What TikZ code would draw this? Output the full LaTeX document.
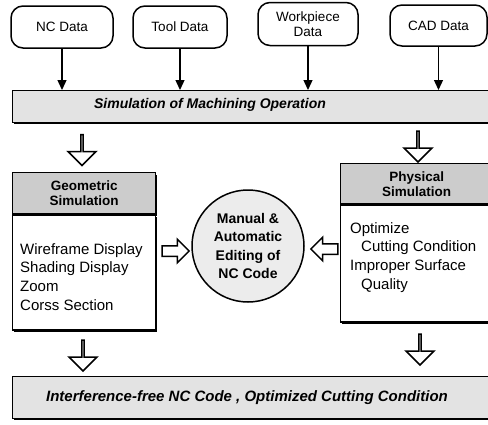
\documentclass[tikz,border=0pt]{standalone}
\usepackage{fontspec}
\setmainfont{Liberation Sans}
\usetikzlibrary{shapes.arrows,shadows,arrows.meta,calc}
\tikzset{
  databox/.style={draw,line width=1.5pt,rounded corners=12pt,fill=white,
    align=center,font=\fontsize{13.5}{15}\selectfont,inner sep=2pt},
  bar/.style={draw,line width=1.4pt,fill=gray!22,
    drop shadow={shadow xshift=0.8pt,shadow yshift=-1.4pt,fill=black,opacity=1}},
  headbox/.style={draw,line width=1.4pt,fill=gray!40,align=center,
    font=\bfseries\fontsize{13.5}{17}\selectfont,inner sep=0pt},
  bodybox/.style={draw,line width=1.4pt,fill=white,inner sep=0pt},
  boxshadow/.style={drop shadow={shadow xshift=1.6pt,shadow yshift=-1.8pt,fill=black,opacity=1}},
  bodytext/.style={align=left,anchor=north west,inner sep=0pt,
    font=\fontsize{15}{18.8}\selectfont},
  bartext/.style={font=\bfseries\itshape\fontsize{14}{16}\selectfont,inner sep=0pt},
  feed/.style={line width=1.3pt,-{Triangle[length=10pt,width=9pt]}},
  hollow/.style={single arrow,draw,line width=1.6pt,fill=white,inner xsep=0pt,
    inner ysep=5pt,minimum width=28pt,single arrow head extend=9pt,minimum height=31pt,
    single arrow tip angle=90},
  hollowh/.style={single arrow,draw,line width=1.5pt,fill=white,inner xsep=0pt,
    inner ysep=4.5pt,minimum width=22pt,single arrow head extend=6.5pt,minimum height=27pt,
    single arrow tip angle=90},
}
\begin{document}
\begin{tikzpicture}[x=1pt,y=-1pt]
\useasboundingbox (0,0) rectangle (488,424);
\clip (0,0) rectangle (488,424);

% input data boxes
\node[databox,minimum width=102pt,minimum height=42pt] (nc) at (62,27) {NC Data};
\node[databox,minimum width=94pt,minimum height=42pt] (tool) at (180,27) {Tool Data};
\node[databox,minimum width=100pt,minimum height=43pt] (work) at (308,24) {Workpiece\\Data};
\node[databox,minimum width=97pt,minimum height=41pt] (cad) at (438.5,25.5) {CAD Data};

% top bar
\node[bar,minimum width=482pt,minimum height=32pt,anchor=north west] (sim) at (12,90) {};
\node[bartext] (simtext) at (210,105) {Simulation of Machining Operation};

\foreach \n in {nc,tool,work,cad}
  \draw[feed] (\n.south) -- (\n.south |- sim.north);

% geometric simulation
\node[headbox,boxshadow,minimum width=143pt,minimum height=41pt,anchor=north west] (geohead) at (12,172) {Geometric\\[-2pt]Simulation};
\node[bodybox,boxshadow,minimum width=143pt,minimum height=115pt,anchor=north] (geobody) at (geohead.south) {};
\node[bodytext] (geotext) at (20,243) {Wireframe Display\\Shading Display\\Zoom\\Corss Section};

% physical simulation
\node[headbox,boxshadow,minimum width=152pt,minimum height=40pt,anchor=north west] (phyhead) at (340,163) {Physical\\[-2pt]Simulation};
\node[bodybox,boxshadow,minimum width=152pt,minimum height=117pt,anchor=north] (phybody) at (phyhead.south) {};
\node[bodytext] (phytext) at (350,222) {Optimize\\\hspace*{11pt}Cutting Condition\\Improper Surface\\\hspace*{11pt}Quality};

% circle
\node[circle,draw,line width=1.5pt,fill=gray!15,minimum size=112pt,inner sep=0pt,
  align=center,font=\bfseries\fontsize{14}{18.6}\selectfont] (edit) at (248,246)
  {Manual \&\\Automatic\\Editing of\\NC Code};

% bottom bar
\node[bar,minimum width=482pt,minimum height=42pt,anchor=north west] (out) at (12,376) {};
\node[bartext,font=\bfseries\itshape\fontsize{15}{17}\selectfont] (outtext) at (247,398) {Interference-free NC Code , Optimized Cutting Condition};

% hollow arrows
\node[hollow,shape border rotate=270] (a1) at (82,149.5) {};
\node[hollow,shape border rotate=270] (a2) at (418,146) {};
\node[hollow,shape border rotate=270] (a3) at (83,355) {};
\node[hollow,shape border rotate=270] (a4) at (420,349) {};
\node[hollowh] (a5) at (173,251) {};
\node[hollowh,shape border rotate=180] (a6) at (327,249) {};
\end{tikzpicture}
\end{document}
